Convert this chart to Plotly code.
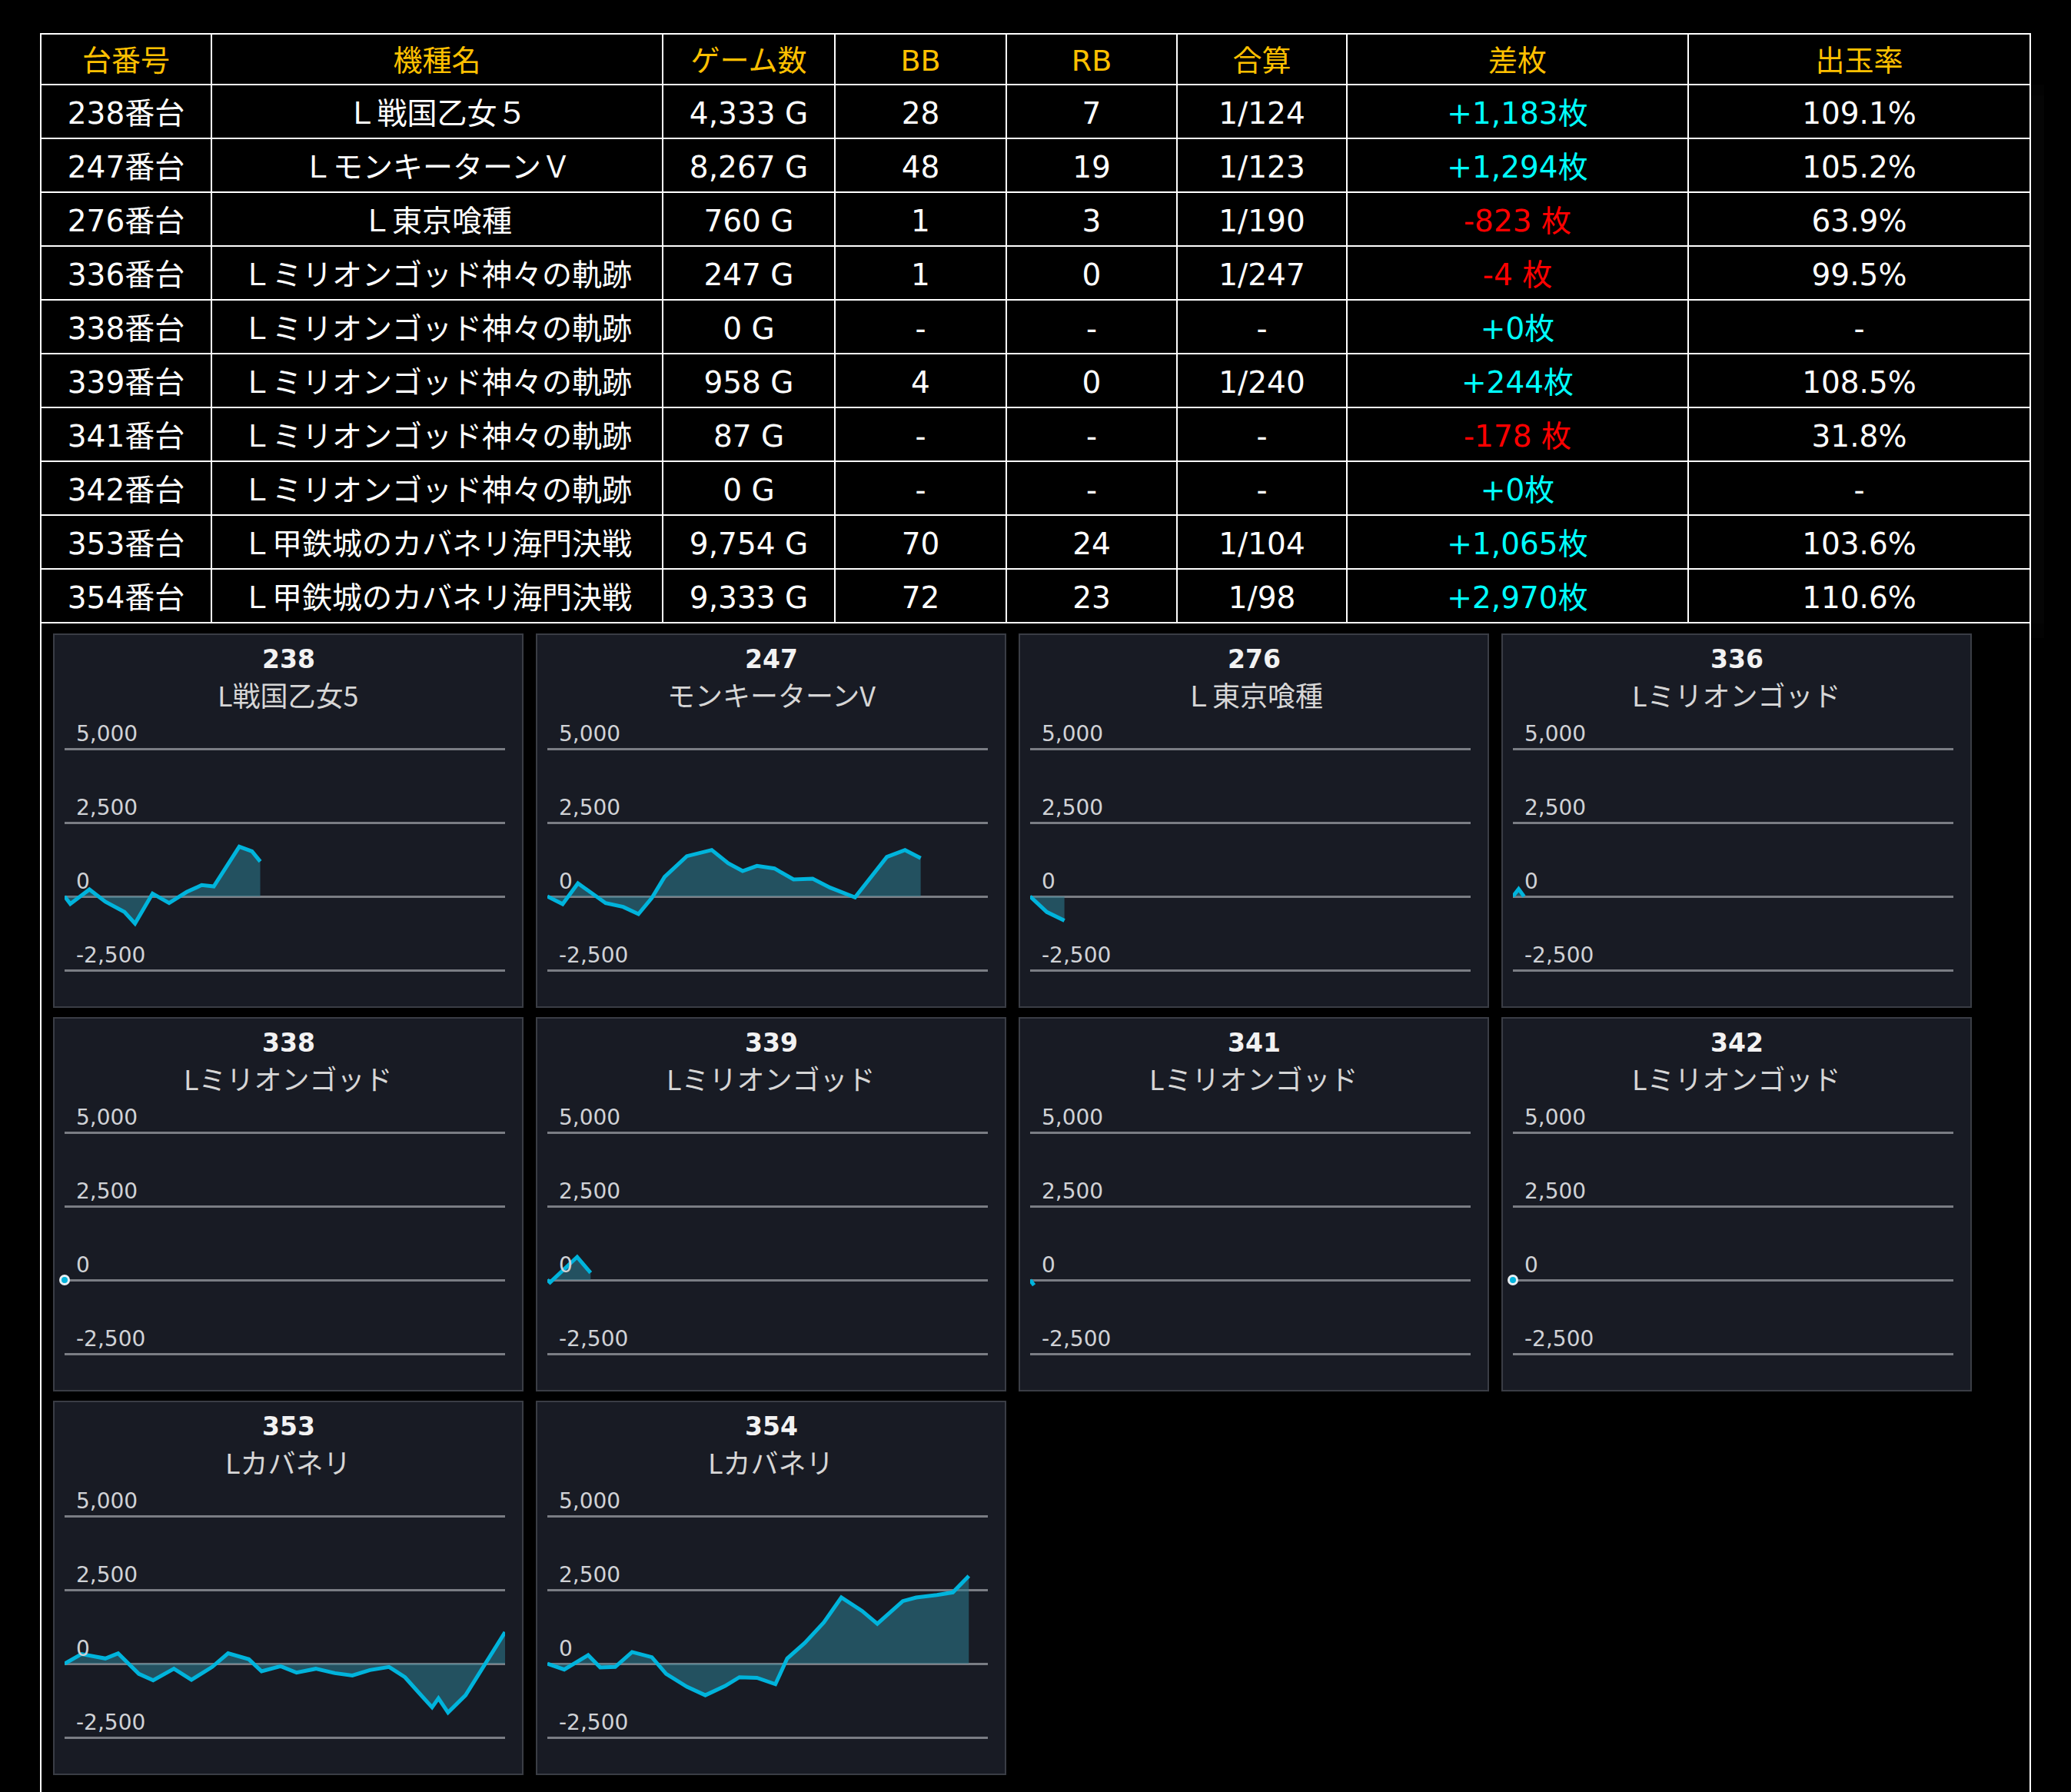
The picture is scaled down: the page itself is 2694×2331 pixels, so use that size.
import plotly.graph_objects as go

W, H = 2694, 2331

# ---- table data ----
headers = ["台番号", "機種名", "ゲーム数", "BB", "RB", "合算", "差枚", "出玉率"]
machine_no = ["238番台", "247番台", "276番台", "336番台", "338番台",
              "339番台", "341番台", "342番台", "353番台", "354番台"]
machine_name = ["Ｌ戦国乙女５", "ＬモンキーターンＶ", "Ｌ東京喰種",
                "Ｌミリオンゴッド神々の軌跡", "Ｌミリオンゴッド神々の軌跡",
                "Ｌミリオンゴッド神々の軌跡", "Ｌミリオンゴッド神々の軌跡",
                "Ｌミリオンゴッド神々の軌跡", "Ｌ甲鉄城のカバネリ海門決戦",
                "Ｌ甲鉄城のカバネリ海門決戦"]
game_count = ["4,333 G", "8,267 G", "760 G", "247 G", "0 G",
              "958 G", "87 G", "0 G", "9,754 G", "9,333 G"]
bb = ["28", "48", "1", "1", "-", "4", "-", "-", "70", "72"]
rb = ["7", "19", "3", "0", "-", "0", "-", "-", "24", "23"]
combined = ["1/124", "1/123", "1/190", "1/247", "-", "1/240", "-", "-", "1/104", "1/98"]
diff_coins = ["+1,183枚", "+1,294枚", "-823 枚", "-4 枚", "+0枚",
              "+244枚", "-178 枚", "+0枚", "+1,065枚", "+2,970枚"]
payout = ["109.1%", "105.2%", "63.9%", "99.5%", "-",
          "108.5%", "31.8%", "-", "103.6%", "110.6%"]

# ---- sparkline data (games played, coin difference) ----
panel_ids = ["238", "247", "276", "336", "338", "339", "341", "342", "353", "354"]
panel_names = ["L戦国乙女5", "モンキーターンV", "Ｌ東京喰種", "Lミリオンゴッド",
               "Lミリオンゴッド", "Lミリオンゴッド", "Lミリオンゴッド",
               "Lミリオンゴッド", "Lカバネリ", "Lカバネリ"]

g238 = [0, 127, 550, 903, 1327, 1560, 1948, 2315, 2703, 3035, 3303, 3868, 4150, 4333]
v238 = [0, -252, 234, -182, -529, -920, 95, -226, 148, 382, 339, 1684, 1528, 1183]

g247 = [0, 339, 677, 1291, 1679, 2017, 2313, 2596, 3089, 3640, 4006, 4324, 4641,
        5029, 5452, 5875, 6263, 6813, 7518, 7920, 8267]
v247 = [0, -260, 443, -226, -356, -599, -52, 660, 1363, 1571, 1120, 859, 1033,
        946, 573, 599, 295, -35, 1337, 1571, 1294]

g276 = [0, 370, 760]
v276 = [0, -530, -823]

g336 = [0, 127, 247]
v336 = [0, 250, -4]

g338 = [0]
v338 = [0]

g339 = [0, 60, 660, 958]
v339 = [0, -80, 780, 244]

g341 = [0, 87]
v341 = [0, -178]

g342 = [0]
v342 = [0]

g353 = [0, 374, 903, 1186, 1645, 1962, 2421, 2809, 3268, 3621, 4080, 4362, 4785,
        5138, 5562, 5985, 6373, 6761, 7185, 7538, 7855, 8138, 8279, 8491, 8879,
        9303, 9754]
v353 = [0, 322, 174, 348, -348, -566, -174, -549, -113, 348, 148, -261, -87,
        -305, -174, -322, -401, -218, -113, -462, -1002, -1481, -1176, -1655,
        -1071, -44, 1065]

g354 = [0, 374, 903, 1171, 1502, 1876, 2313, 2631, 3089, 3498, 3936, 4253, 4641,
        5050, 5311, 5699, 6122, 6510, 6968, 7307, 7871, 8167, 8626, 8979, 9333]
v354 = [0, -200, 287, -131, -113, 392, 218, -348, -784, -1071, -758, -462, -479,
        -697, 174, 697, 1394, 2239, 1786, 1350, 2117, 2239, 2326, 2413, 2970]

series_games = [g238, g247, g276, g336, g338, g339, g341, g342, g353, g354]
series_values = [v238, v247, v276, v336, v338, v339, v341, v342, v353, v354]

tick_vals = [-2500, 0, 2500, 5000]
tick_text = ["-2,500", "0", "2,500", "5,000"]
games_max = 9754


def fx(px):
    return px / W


def fy(py):
    return 1 - py / H


fig = go.Figure()

# ---- data table ----
white = "#ffffff"
cyan = "#00ffff"
red = "#ff0000"
diff_colors = [red if d.startswith("-") else cyan for d in diff_coins]
n = len(machine_no)
cell_colors = [[white] * n] * 6 + [diff_colors] + [[white] * n]
col_widths = [222, 587, 224, 223, 222, 221, 444, 445]
table_font = "DejaVu Sans, Noto Sans CJK JP"
columns = [machine_no, machine_name, game_count, bb, rb, combined, diff_coins, payout]

# grid of the table (no text)
fig.add_trace(
    go.Table(
        domain=dict(x=[fx(53), fx(2641)], y=[fy(812), fy(44)]),
        columnwidth=col_widths,
        header=dict(
            values=[""] * len(headers),
            height=66,
            fill_color="#000000",
            line=dict(color="#ffffff", width=2),
        ),
        cells=dict(
            values=[[""] * n for _ in columns],
            height=70,
            fill_color="#000000",
            line=dict(color="#ffffff", width=2),
        ),
    )
)

# text of the table, nudged down so it sits in the middle of each row
fig.add_trace(
    go.Table(
        domain=dict(x=[fx(53), fx(2641)], y=[fy(830), fy(55)]),
        columnwidth=col_widths,
        header=dict(
            values=headers,
            height=69,
            fill_color="rgba(0,0,0,0)",
            line=dict(color="rgba(0,0,0,0)", width=0),
            font=dict(family=table_font, size=38, color="#ffc000"),
            align="center",
        ),
        cells=dict(
            values=columns,
            height=70,
            fill_color="rgba(0,0,0,0)",
            line=dict(color="rgba(0,0,0,0)", width=0),
            font=dict(family=table_font, size=39, color=cell_colors),
            align="center",
        ),
    )
)

# outer frame continuing below the table
shapes = [
    dict(type="line", xref="paper", yref="paper", x0=fx(53), x1=fx(53),
         y0=fy(44), y1=-0.01, line=dict(color="#ffffff", width=2)),
    dict(type="line", xref="paper", yref="paper", x0=fx(2641), x1=fx(2641),
         y0=fy(44), y1=-0.01, line=dict(color="#ffffff", width=2)),
]
annotations = []
layout_axes = {}

panel_left = [70, 698, 1326, 1954]
panel_top = [825, 1324, 1823]
panel_w, panel_h = 610, 485
px_per_unit = 96 / 2500

for i, pid in enumerate(panel_ids):
    r, c = divmod(i, 4)
    x0, y0 = panel_left[c], panel_top[r]
    shapes.append(
        dict(type="rect", xref="paper", yref="paper", layer="below",
             x0=fx(x0), x1=fx(x0 + panel_w), y0=fy(y0), y1=fy(y0 + panel_h),
             fillcolor="#181b24", line=dict(color="#3a3d45", width=2))
    )
    annotations.append(
        dict(text=pid, xref="paper", yref="paper", x=fx(x0 + panel_w / 2),
             y=fy(y0 + 32), showarrow=False, xanchor="center", yanchor="middle",
             font=dict(family="DejaVu Sans", size=33, color="#f2f2f2", weight="bold"))
    )
    annotations.append(
        dict(text=panel_names[i], xref="paper", yref="paper",
             x=fx(x0 + panel_w / 2), y=fy(y0 + 78), showarrow=False,
             xanchor="center", yanchor="middle",
             font=dict(family="Noto Sans CJK JP", size=36, color="#d6d6d6"))
    )

    # y range chosen so that 0 sits 341 px and 5,000 sits 149 px below the panel top
    y_lo, y_hi = -3000, 6300
    k = "" if i == 0 else str(i + 1)
    layout_axes["xaxis" + k] = dict(
        domain=[fx(x0 + 14), fx(x0 + 587)], range=[0, games_max],
        visible=False, fixedrange=True, anchor="y" + k,
    )
    layout_axes["yaxis" + k] = dict(
        domain=[fy(y0 + 341 - y_lo * px_per_unit), fy(y0 + 341 - y_hi * px_per_unit)],
        range=[y_lo, y_hi],
        tickvals=tick_vals, ticktext=tick_text, ticklabelposition="inside top",
        ticklabelstandoff=12,
        tickfont=dict(family="DejaVu Sans", size=28, color="#d0d2d6"),
        showgrid=True, gridcolor="#7a7d84", gridwidth=3, zeroline=False,
        showline=False, ticks="", fixedrange=True, anchor="x" + k,
    )

    gs, vs = series_games[i], series_values[i]
    if len(gs) == 1:
        fig.add_trace(
            go.Scatter(x=gs, y=vs, mode="markers", xaxis="x" + k, yaxis="y" + k,
                       marker=dict(size=11, color="#00b4dc",
                                   line=dict(color="#e8eef2", width=3)),
                       cliponaxis=False, showlegend=False, hoverinfo="skip")
        )
    else:
        fig.add_trace(
            go.Scatter(x=gs, y=vs, mode="lines", xaxis="x" + k, yaxis="y" + k,
                       line=dict(color="#00b4dc", width=5),
                       fill="tozeroy", fillcolor="rgba(45,125,145,0.55)",
                       cliponaxis=False, showlegend=False, hoverinfo="skip")
        )

fig.update_layout(
    width=W,
    height=H,
    margin=dict(l=0, r=0, t=0, b=0),
    paper_bgcolor="#000000",
    plot_bgcolor="rgba(0,0,0,0)",
    showlegend=False,
    shapes=shapes,
    annotations=annotations,
    **layout_axes,
)

fig.write_html(
    "out.html",
    config={"displayModeBar": False},
    post_script="document.body.style.margin='0px';document.body.style.background='#000';",
)
